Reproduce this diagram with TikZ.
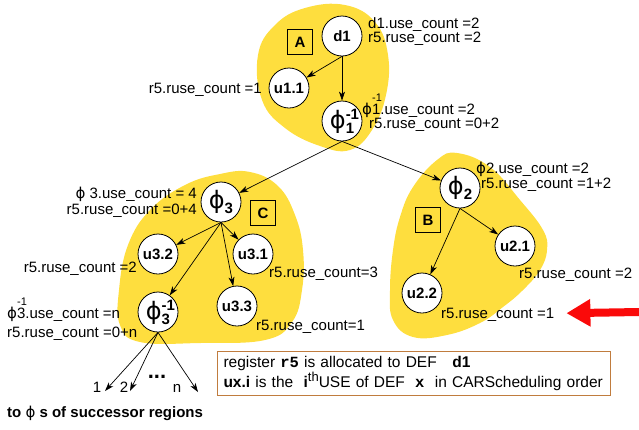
\documentclass[tikz,border=0pt]{standalone}
\usepackage{fontspec}
\setmainfont{Liberation Sans}
\setmonofont{Liberation Mono}
\newfontfamily\greekfont{DejaVu Sans}
\usetikzlibrary{arrows.meta}

\definecolor{regionyellow}{RGB}{254,222,62}
\definecolor{legendbrown}{RGB}{192,124,62}
\definecolor{arrowred}{RGB}{250,10,10}

\newcommand{\phig}{{\greekfont\mdseries ϕ}}
\newcommand{\phibig}{{\fontsize{24}{24}\selectfont\greekfont\mdseries ϕ}}
\newcommand{\phisub}[1]{\phibig\raisebox{-5pt}{\bfseries #1}}
\newcommand{\phiinv}[1]{\phibig\rlap{\raisebox{9pt}{\bfseries -1}}\raisebox{-5pt}{\bfseries #1}}
\newcommand{\phiinvtxt}[1]{\phig\rlap{\raisebox{12.5pt}{\fontsize{11}{11}\selectfont -1}}#1}

\begin{document}
\begin{tikzpicture}[x=1pt,y=-1pt,
	every node/.style={font=\fontsize{15}{14}\selectfont},
	vertex/.style={circle,draw,fill=white,line width=0.8pt,minimum size=40pt,inner sep=0pt,font=\fontsize{15}{15}\selectfont\bfseries},
	regionbox/.style={draw,line width=0.8pt,minimum size=25pt,inner sep=0pt,font=\fontsize{15}{15}\selectfont\bfseries},
	region/.style={fill=regionyellow},
	link/.style={line width=0.7pt,-{Stealth[length=9pt,width=6pt,inset=2.5pt]}},
	countlbl/.style={inner sep=1pt},
	redarrow/.style={draw=arrowred,line width=8pt,-{Triangle[length=24pt,width=26pt]},arrowred}]

	\useasboundingbox (0,0) rectangle (639,429);

	% the three regions
	\fill[region] plot[smooth cycle,tension=0.7] coordinates {(258,55) (262,100) (285,128) (320,146) (350,150) (372,130) (386,95) (388,55) (375,22) (345,5) (305,8) (275,25)};
	\fill[region] plot[smooth cycle,tension=0.7] coordinates {(250,172) (278,186) (295,215) (303,250) (302,290) (292,322) (265,340) (200,343) (140,342) (120,325) (119,290) (128,245) (150,210) (185,185) (220,174)};
	\fill[region] plot[smooth cycle,tension=0.7] coordinates {(457,153) (490,167) (520,200) (543,230) (547,250) (540,270) (523,290) (503,307) (480,323) (447,335) (413,337) (393,320) (390,290) (393,250) (400,217) (413,187) (437,160)};

	\node[regionbox] (boxA) at (300,42) {A};
	\node[regionbox] (boxB) at (428,220) {B};
	\node[regionbox] (boxC) at (263,213) {C};

	% nodes
	\node[vertex] (d1) at (342,36) {d1};
	\node[vertex] (u11) at (289,88) {u1.1};
	\node[vertex] (phione) at (342,121) {\phiinv{1}};
	\node[vertex] (phithree) at (221,202) {\phisub{3}};
	\node[vertex] (u32) at (158,254) {u3.2};
	\node[vertex] (u31) at (253,254) {u3.1};
	\node[vertex] (u33) at (237,306) {u3.3};
	\node[vertex] (phithreeinv) at (158,312) {\phiinv{3}};
	\node[vertex] (phitwo) at (460,188) {\phisub{2}};
	\node[vertex] (u21) at (515,246) {u2.1};
	\node[vertex] (u22) at (422,293) {u2.2};

	% edges
	\draw[link] (d1.south) -- (u11);
	\draw[link] (d1.south) -- (phione);
	\draw[link] (phione.south) -- (phithree);
	\draw[link] (phione.south) -- (phitwo);
	\draw[link] (phithree.south) -- (u32);
	\draw[link] (phithree.south) -- (u31);
	\draw[link] (phithree.south) -- (u33);
	\draw[link] (phithree.south) -- (phithreeinv);
	\draw[link] (phitwo.south) -- (u21);
	\draw[link] (phitwo.south) -- (u22);

	\coordinate (succone) at (105,391);
	\coordinate (succtwo) at (130,391);
	\coordinate (succn) at (198,392);
	\draw[link] (phithreeinv.south) -- (succone);
	\draw[link] (phithreeinv.south) -- (succtwo);
	\draw[link] (phithreeinv.south) -- (succn);

	% counts
	\node[countlbl,anchor=base west] (lbldone) at (367,28) {d1.use\_count =2};
	\node[countlbl,anchor=base west] (lbldonebis) at (367,42) {r5.ruse\_count =2};
	\node[countlbl,anchor=base east] (lbluoneone) at (263,93) {r5.ruse\_count =1};
	\node[countlbl,anchor=base west] (lblphione) at (361,114) {\phiinvtxt{1}.use\_count =2};
	\node[countlbl,anchor=base west] (lblphionebis) at (368,128) {r5.ruse\_count =0+2};
	\node[countlbl,anchor=base east] (lblphithree) at (198,198) {\phig\ 3.use\_count = 4};
	\node[countlbl,anchor=base east] (lblphithreebis) at (198,214) {r5.ruse\_count =0+4};
	\node[countlbl,anchor=base west] (lblphitwo) at (475,173) {\phig2.use\_count =2};
	\node[countlbl,anchor=base west] (lblphitwobis) at (480,188) {r5.ruse\_count =1+2};
	\node[countlbl,anchor=base east] (lblu32) at (138,272) {r5.ruse\_count =2};
	\node[countlbl,anchor=base west] (lblu31) at (268,277) {r5.ruse\_count=3};
	\node[countlbl,anchor=base west] (lblu21) at (518,278) {r5.ruse\_count =2};
	\node[countlbl,anchor=base west] (lblu22) at (440,318) {r5.ruse\_count =1};
	\node[countlbl,anchor=base west] (lblu33) at (255,330) {r5.ruse\_count=1};
	\node[countlbl,anchor=base west] (lblphithreeinv) at (6,318) {\phiinvtxt{3}.use\_count =n};
	\node[countlbl,anchor=base west] (lblphithreeinvbis) at (6,337) {r5.ruse\_count =0+n};

	% successors
	\node[countlbl,anchor=base] (numone) at (97,392) {1};
	\node[countlbl,anchor=base] (numtwo) at (124,392) {2};
	\node[countlbl,anchor=base] (numn) at (177,392) {n};
	\node[countlbl,anchor=base] (moredots) at (157,378) {\bfseries\fontsize{22}{22}\selectfont ...};
	\node[countlbl,anchor=base west] (succtext) at (6,417) {\bfseries to \phig\ s of successor regions};

	% legend
	\node[draw=legendbrown,line width=1pt,anchor=north west,text width=381pt,inner xsep=6pt,inner ysep=5pt,align=left,font=\fontsize{15.5}{20}\selectfont] (legend) at (217,351)
		{register \texttt{\bfseries r5} is allocated to DEF\quad\textbf{d1}\\
		\textbf{ux.i} is the \ \textbf{i}\raisebox{6pt}{\fontsize{13}{13}\selectfont th}USE of DEF \ \texttt{\bfseries x} \ in CARScheduling order};

	\coordinate (redtail) at (639,312);
	\draw[redarrow] (redtail) -- (lblu22) [shorten >=11pt];
\end{tikzpicture}
\end{document}
